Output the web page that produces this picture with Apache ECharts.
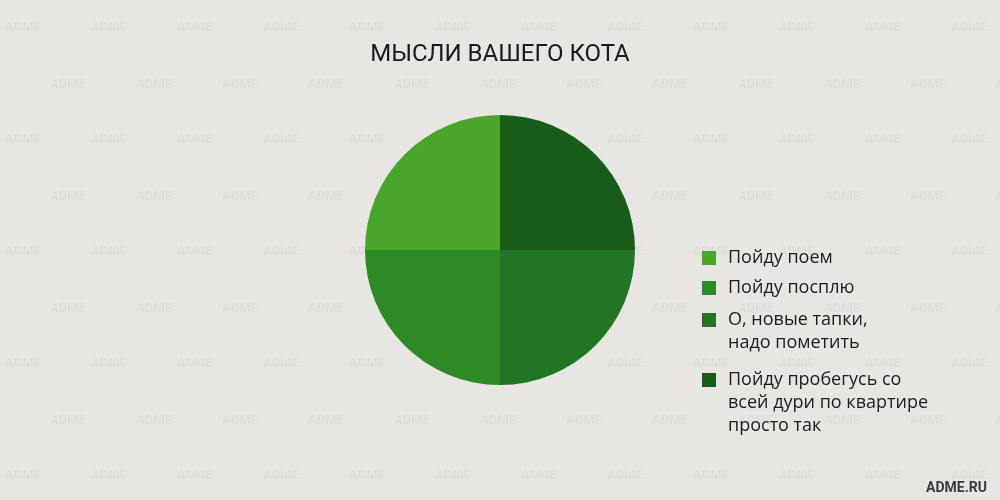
<!DOCTYPE html>
<html><head><meta charset="utf-8">
<script src="https://cdn.jsdelivr.net/npm/echarts@6/dist/echarts.min.js"></script>
<style>html,body{margin:0;padding:0;background:#e7e6e2;}#c{width:1000px;height:500px;}</style>
</head><body><div id="c"></div>
<script>
const categories = ['Пойду поем', 'Пойду посплю', 'О, новые тапки,\nнадо пометить', 'Пойду пробегусь со\nвсей дури по квартире\nпросто так'];
const values = [25, 25, 25, 25];
const colors = ['#4aa52b', '#2d8a26', '#217523', '#175c18'];
const legendCenters = [258, 288, 320, 380];

// faint watermark background tile
const tile = document.createElement('canvas');
tile.width = 86; tile.height = 112;
const ctx = tile.getContext('2d');
ctx.fillStyle = '#e7e6e2';
ctx.fillRect(0, 0, 86, 112);
ctx.fillStyle = 'rgba(0,0,0,0.035)';
ctx.font = 'bold 13px Roboto';
[[50, 88], [-36, 88], [5, 31]].forEach(p => ctx.fillText('ADME', p[0], p[1]));

const LH = 23;
const FS = 18;
const chart = echarts.init(document.getElementById('c'), null, {renderer: 'canvas'});
const legends = categories.map((name, i) => {
  const lines = name.split('\n');
  const n = lines.length;
  const h = LH * (2 * n - 1);
  return {
    orient: 'vertical', left: 702, top: legendCenters[i] - h / 2, padding: 0,
    itemWidth: 14, itemHeight: 14, itemGap: 0, icon: 'rect',
    selectedMode: false,
    data: [name],
    formatter: () => '\n'.repeat(n - 1) + lines.map(l => '{t|' + l + '}').join('\n'),
    textStyle: {fontFamily: 'Open Sans', fontSize: FS, color: '#1c1c1c', lineHeight: LH,
      rich: {t: {fontFamily: 'Open Sans', fontSize: FS, color: '#1c1c1c', lineHeight: LH, padding: [0, 0, 0, 7]}}},
    itemStyle: {borderWidth: 0}
  };
});
chart.setOption({
  backgroundColor: {image: tile, repeat: 'repeat'},
  animation: false,
  title: [
    {text: 'МЫСЛИ ВАШЕГО КОТА', left: 'center', top: 38,
     textStyle: {fontFamily: 'Roboto', fontSize: 24, fontWeight: 'normal', color: '#1a1a1a'}},
    {text: 'ADME.RU', right: 8, top: 476,
     textStyle: {fontFamily: 'Roboto', fontSize: 14, fontWeight: 'bold', color: '#3a3a3a'}}
  ],
  legend: legends,
  series: [{
    type: 'pie', center: [500, 250], radius: 135, startAngle: 90, clockwise: false,
    label: {show: false}, labelLine: {show: false}, silent: true,
    itemStyle: {borderWidth: 0},
    data: categories.map((c, i) => ({name: c, value: values[i], itemStyle: {color: colors[i]}}))
  }]
});
</script></body></html>
